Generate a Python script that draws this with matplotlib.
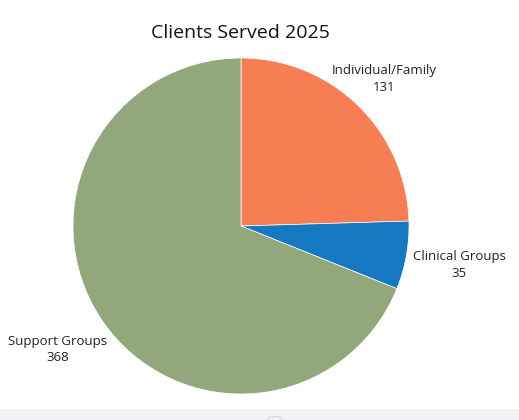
import numpy as np
import matplotlib.pyplot as plt
from matplotlib.patches import Rectangle, Circle

# Data
categories = ['Individual/Family', 'Clinical Groups', 'Support Groups']
clients = [131, 35, 368]
colors = ['#F77D52', '#1479C0', '#93A77D']
label_dist = [1.22, 1.32, 1.315]

plt.rcParams['font.family'] = ['Open Sans', 'DejaVu Sans']

fig = plt.figure(figsize=(5.19, 4.2), dpi=100)
fig.patch.set_facecolor('white')

# bottom gray strip
fig.patches.append(Rectangle((0, 0), 1, 11 / 420, transform=fig.transFigure,
                             facecolor='#F2F2F6', edgecolor='none', zorder=0))
fig.patches.append(Circle((275 / 519, -4 / 420), 0.018, transform=fig.transFigure,
                          facecolor='none', edgecolor='#D8D8DC', linewidth=0.8, zorder=1))

# pie axes: center (241, 226) px, radius 168 px
ax = fig.add_axes([(241 - 168) / 519, (420 - 226 - 168) / 420, 336 / 519, 336 / 420])
wedges, _ = ax.pie(clients, colors=colors, startangle=90, counterclock=False,
                   wedgeprops=dict(edgecolor='white', linewidth=0.5))

for w, cat, val, d in zip(wedges, categories, clients, label_dist):
    ang = np.deg2rad((w.theta1 + w.theta2) / 2)
    ax.text(d * np.cos(ang), d * np.sin(ang), f'{cat}\n{val}', ha='center', va='center',
            fontsize=9.5, color='#222222', linespacing=1.35, clip_on=False)

ax.set_xlim(-1, 1)
ax.set_ylim(-1, 1)
ax.set_aspect('equal')

fig.text(240 / 519, 1 - 33 / 420, 'Clients Served 2025', ha='center', va='center',
         fontsize=14, color='#111111')

plt.savefig('out.png', dpi=100)
